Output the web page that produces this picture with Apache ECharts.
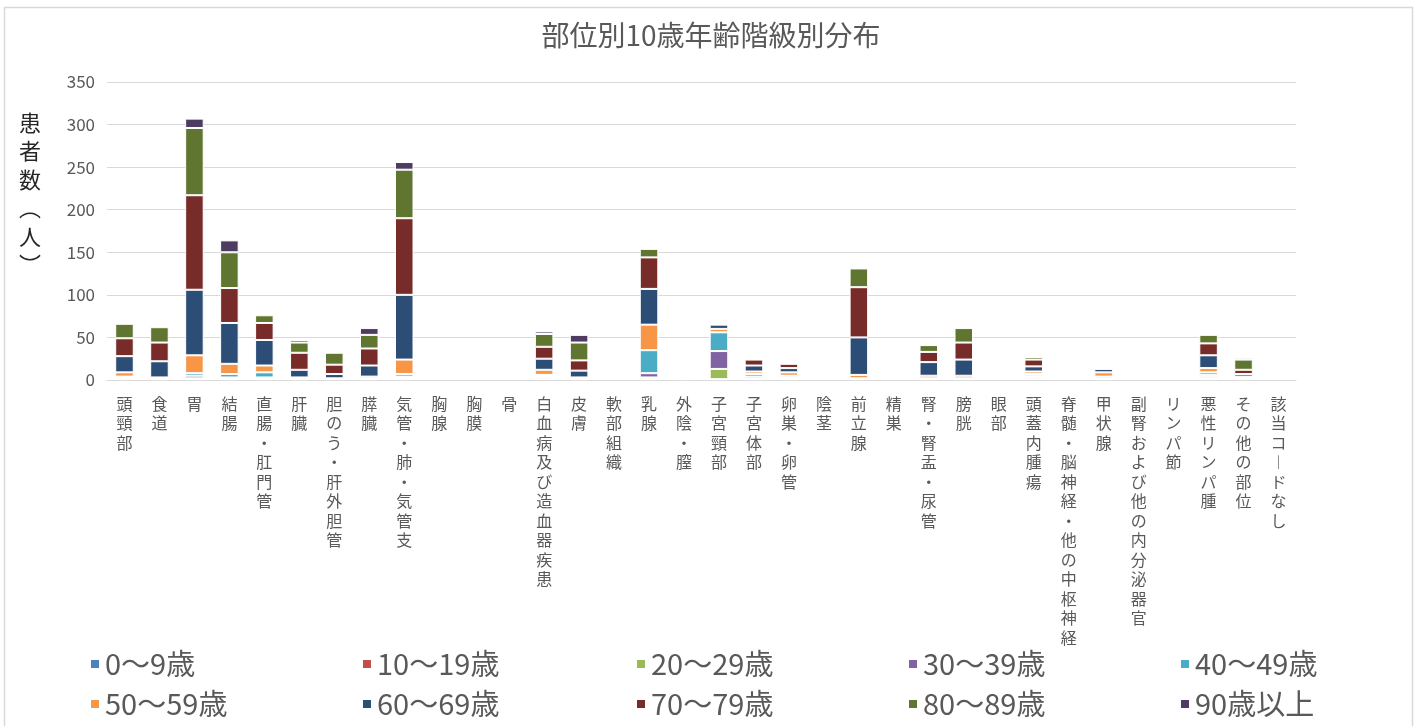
<!DOCTYPE html>
<html>
<head>
<meta charset="utf-8">
<script src="https://cdn.jsdelivr.net/npm/echarts@6/dist/echarts.min.js"></script>
<style>
  html, body { margin: 0; padding: 0; background: #fff; }
  #chart { width: 1422px; height: 726px; }
</style>
</head>
<body>
<div id="chart"></div>
<script>
// 部位
const sites = ['頭頸部', '食道', '胃', '結腸', '直腸・肛門管', '肝臓', '胆のう・肝外胆管', '膵臓',
  '気管・肺・気管支', '胸腺', '胸膜', '骨', '白血病及び造血器疾患', '皮膚', '軟部組織', '乳腺',
  '外陰・膣', '子宮頸部', '子宮体部', '卵巣・卵管', '陰茎', '前立腺', '精巣', '腎・腎盂・尿管',
  '膀胱', '眼部', '頭蓋内腫瘍', '脊髄・脳神経・他の中枢神経', '甲状腺', '副腎および他の内分泌器官',
  'リンパ節', '悪性リンパ腫', 'その他の部位', '該当コードなし'];

const ageGroups = ['0～9歳', '10～19歳', '20～29歳', '30～39歳', '40～49歳',
  '50～59歳', '60～69歳', '70～79歳', '80～89歳', '90歳以上'];

const colors = ['#4F81BD', '#C0504D', '#9BBB59', '#8064A2', '#4BACC6',
  '#F79646', '#2C4D75', '#772C2A', '#5F7530', '#4D3B62'];

// 年齢階級ごとの患者数
const age0  = [1,0,0,1,1,0,0,0,1,0,0,0,2,0,0,1,0,1,1,1,0,0,0,0,0,0,2,0,0,0,0,1,1,0];
const age10 = [0,0,1,0,0,0,0,0,1,0,0,0,1,0,0,0,0,0,0,0,0,0,0,0,0,0,1,0,0,0,0,1,0,0];
const age20 = [1,0,1,1,1,0,0,0,1,0,0,0,1,0,0,2,0,12,1,1,0,0,0,0,0,0,1,0,1,0,0,2,1,0];
const age30 = [1,0,3,1,1,0,0,1,1,0,0,0,1,0,0,5,0,21,2,1,0,1,0,1,1,0,1,0,1,0,0,2,0,0];
const age40 = [1,1,3,4,6,1,1,1,3,0,0,0,1,1,0,27,0,22,3,2,0,1,0,1,1,0,2,0,2,0,0,3,1,0];
const age50 = [5,2,21,12,8,2,1,2,17,0,0,0,6,2,0,30,0,4,3,4,0,4,0,3,3,0,3,0,5,0,0,5,1,0];
const age60 = [19,19,77,48,30,9,5,13,76,0,0,0,13,8,0,42,1,5,7,5,0,44,0,16,19,0,6,0,4,0,0,15,3,0];
const age70 = [21,22,111,41,20,20,11,20,90,0,0,0,14,12,0,37,1,1,7,5,0,59,0,12,20,0,8,0,1,0,0,14,5,0];
const age80 = [17,18,79,42,9,12,14,16,57,0,0,0,15,21,0,10,0,0,0,1,0,22,0,8,17,0,3,0,1,0,0,10,12,0];
const age90 = [0,0,11,14,0,3,0,8,9,0,0,0,3,9,0,1,0,0,0,0,0,0,0,0,0,0,1,0,0,0,0,0,2,0];

const seriesData = [age0, age10, age20, age30, age40, age50, age60, age70, age80, age90];

const fontJP = '"Noto Sans CJK JP", "Noto Sans", sans-serif';
const textColor = '#595959';

// 凡例の位置（2行5列）
const legendLeft = [84, 356, 630, 902, 1174];
const legendTop = [643, 683];

function createLegend() {
    return ageGroups.map((name, i) => ({
        data: [name],
        left: legendLeft[i % 5],
        top: legendTop[Math.floor(i / 5)],
        icon: 'rect',
        itemWidth: 10,
        itemHeight: 10,
        selectedMode: false,
        textStyle: { fontSize: 29, lineHeight: 32, color: textColor, fontFamily: fontJP }
    }));
}

function createSeries() {
    return ageGroups.map((name, i) => ({
        name: name,
        type: 'bar',
        stack: 'total',
        barWidth: '53%',
        itemStyle: { color: colors[i], borderColor: '#ffffff', borderWidth: 1 },
        // 0人は描かない（軸線を白枠で消さないため）
        data: seriesData[i].map(v => v === 0 ? '-' : v)
    }));
}

const chart = echarts.init(document.getElementById('chart'));
chart.setOption({
    backgroundColor: '#ffffff',
    color: colors,
    animation: false,
    title: {
        text: '部位別10歳年齢階級別分布',
        left: 'center',
        top: 16,
        textStyle: { fontSize: 28, fontWeight: 'normal', color: textColor, fontFamily: fontJP }
    },
    legend: createLegend(),
    grid: { left: 107, right: 126, top: 82, bottom: 346 },
    xAxis: {
        type: 'category',
        data: sites,
        axisLine: { lineStyle: { color: '#d9d9d9', width: 1 } },
        axisTick: { length: 5, lineStyle: { color: '#d9d9d9' } },
        axisLabel: {
            interval: 0,
            margin: 14,
            color: textColor,
            fontSize: 16,
            lineHeight: 19.5,
            fontFamily: fontJP,
            verticalAlign: 'top',
            formatter: v => v.replace(/ー/g, '︱').split('').join('\n')
        }
    },
    yAxis: {
        type: 'value',
        min: 0,
        max: 350,
        interval: 50,
        axisLine: { show: false },
        axisTick: { show: false },
        axisLabel: { color: textColor, fontSize: 17, margin: 12, fontFamily: fontJP },
        splitLine: { lineStyle: { color: '#d9d9d9', width: 1 } }
    },
    graphic: [
        {
            type: 'rect',
            silent: true,
            shape: { x: 4.5, y: 7.5, width: 1408, height: 740 },
            style: { fill: 'none', stroke: '#d9d9d9', lineWidth: 1.5 }
        },
        {
            type: 'text',
            silent: true,
            left: 19,
            top: 108,
            style: {
                text: '患\n者\n数\n︵\n人\n︶',
                font: '22px ' + fontJP,
                lineHeight: 28.5,
                fill: '#262626',
                align: 'center'
            }
        }
    ],
    series: createSeries()
});
</script>
</body>
</html>
